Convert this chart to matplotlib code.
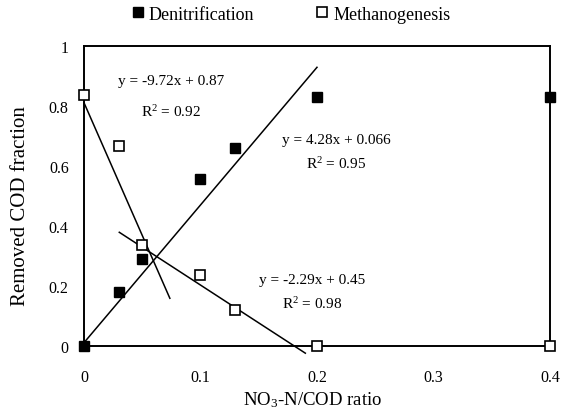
import matplotlib
matplotlib.use("Agg")
import matplotlib.pyplot as plt
from matplotlib.lines import Line2D

# ===================== 数据 =====================
x_denit = [0, 0.03, 0.05, 0.10, 0.13, 0.20, 0.40]
y_denit = [0, 0.18, 0.29, 0.555, 0.66, 0.83, 0.83]

x_meth = [0, 0.03, 0.05, 0.10, 0.13, 0.20, 0.40]
y_meth = [0.835, 0.665, 0.335, 0.237, 0.12, 0.0, 0.0]

# 趋势线端点
fit_denit_x = [0, 0.2]
fit_denit_y = [0.01, 0.928]
fit_meth1_x = [0, 0.0737]
fit_meth1_y = [0.81, 0.158]
fit_meth2_x = [0.0303, 0.19]
fit_meth2_y = [0.378, -0.025]

eq_texts = ["y = -9.72x + 0.87", "y = 4.28x + 0.066", "y = -2.29x + 0.45"]
r2_texts = ["R$^2$ = 0.92", "R$^2$ = 0.95", "R$^2$ = 0.98"]
eq_x = [0.0745, 0.2166, 0.196]
eq_y = [0.883, 0.686, 0.222]
r2_y = [0.782, 0.609, 0.141]

x_ticks = [0, 0.1, 0.2, 0.3, 0.4]
x_ticklabels = ["0", "0.1", "0.2", "0.3", "0.4"]
y_ticks = [0, 0.2, 0.4, 0.6, 0.8, 1.0]
y_ticklabels = ["0", "0.2", "0.4", "0.6", "0.8", "1"]

# ===================== 字体 =====================
plt.rcParams["font.family"] = ["Liberation Serif", "DejaVu Serif"]
plt.rcParams["mathtext.fontset"] = "custom"
plt.rcParams["mathtext.rm"] = "Liberation Serif"
plt.rcParams["mathtext.it"] = "Liberation Serif:italic"

# ===================== 绘图 =====================
fig = plt.figure(figsize=(5.66, 4.14), dpi=100)
ax = fig.add_axes([0.1484, 0.1626, 0.8233, 0.7246])

ax.plot(fit_denit_x, fit_denit_y, color="black", lw=1.1, clip_on=False)
ax.plot(fit_meth1_x, fit_meth1_y, color="black", lw=1.1, clip_on=False)
ax.plot(fit_meth2_x, fit_meth2_y, color="black", lw=1.1, clip_on=False)

ax.plot(x_denit, y_denit, "s", ms=7.2, mfc="black", mec="black", ls="none",
        clip_on=False, zorder=5)
ax.plot(x_meth, y_meth, "s", ms=7, mfc="white", mec="black", mew=1.2,
        ls="none", clip_on=False, zorder=6)

for i in range(3):
    ax.text(eq_x[i], eq_y[i], eq_texts[i], ha="center", va="center", fontsize=11)
    ax.text(eq_x[i], r2_y[i], r2_texts[i], ha="center", va="center", fontsize=11)

ax.set_xlim(0, 0.4)
ax.set_ylim(0, 1)
ax.set_xticks(x_ticks)
ax.set_xticklabels(x_ticklabels)
ax.set_yticks(y_ticks)
ax.set_yticklabels(y_ticklabels)
ax.tick_params(axis="x", length=0, pad=17, labelsize=11.5)
ax.tick_params(axis="y", length=0, pad=11, labelsize=11.5)

for s in ax.spines.values():
    s.set_linewidth(1.4)

ax.set_xlabel("NO$_3$-N/COD ratio", fontsize=13.5)
ax.set_ylabel("Removed COD fraction", fontsize=15)
ax.xaxis.set_label_coords(0.49, -0.145)
ax.yaxis.set_label_coords(-0.116, 0.469)

handles = [
    Line2D([], [], marker="s", ls="none", ms=7.5, mfc="black", mec="black"),
    Line2D([], [], marker="s", ls="none", ms=6.5, mfc="white", mec="black", mew=1.2),
]
fig.legend(handles, ["Denitrification", "Methanogenesis"], loc="center",
           bbox_to_anchor=(0.513, 0.963), ncol=2, frameon=False, fontsize=13,
           handlelength=0.8, handletextpad=0.2, columnspacing=3.4)

fig.savefig("out.png", dpi=100)
